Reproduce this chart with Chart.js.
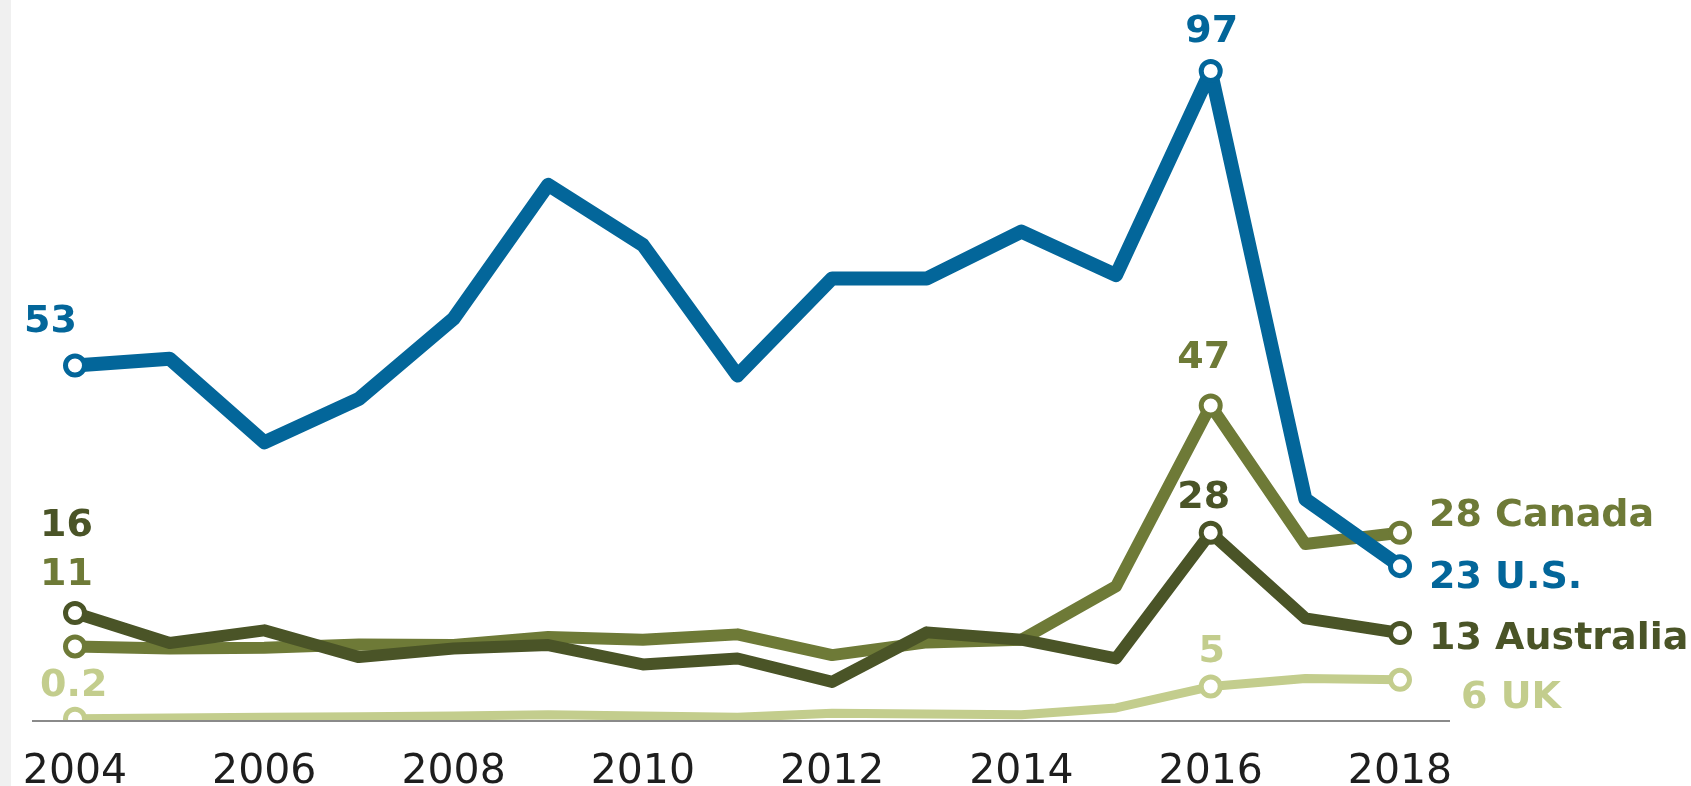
<!DOCTYPE html>
<html>
<head>
<meta charset="utf-8">
<script src="https://cdn.jsdelivr.net/npm/chart.js@4.4.1/dist/chart.umd.min.js"></script>
<style>
  html, body { margin: 0; padding: 0; }
  body {
    width: 1691px;
    height: 786px;
    overflow: hidden;
    background: linear-gradient(to right, #f0f0f0 11px, #ffffff 11px);
  }
  #chartBox { position: relative; width: 1691px; height: 786px; }
</style>
</head>
<body>
<div id="chartBox"><canvas id="myChart"></canvas></div>
<script>
// data
const years = ["2004", "2005", "2006", "2007", "2008", "2009", "2010", "2011",
  "2012", "2013", "2014", "2015", "2016", "2017", "2018"];
const tickLabels = ["2004", "2006", "2008", "2010", "2012", "2014", "2016", "2018"];

const usValues = [53, 54, 41.5, 48, 60, 80, 71, 51.5, 66, 66, 73, 66.5, 97, 33, 23];
const australiaValues = [16, 11.5, 13.4, 9.4, 10.7, 11.2, 8.3, 9.2, 5.7, 13.1, 12, 9.2, 28, 15.2, 13];
const canadaValues = [11, 10.7, 10.8, 11.3, 11.2, 12.4, 12, 12.8, 9.7, 11.6, 12, 20, 47, 26.3, 28];
const ukValues = [0.2, 0.3, 0.4, 0.5, 0.6, 0.8, 0.6, 0.4, 1.0, 0.9, 0.8, 1.8, 5, 6.2, 6];

const seriesNames = ["U.S.", "Australia", "Canada", "UK"];
const markedYears = ["2004", "2016", "2018"];

const colors = {
  "U.S.": "#03669a",
  "Australia": "#4a5427",
  "Canada": "#6e7a37",
  "UK": "#c3cd8d"
};

// where each label sits relative to its point (pixels)
const labelLayout = {
  "U.S.": [
    { year: "2004", dx: -51, dy: -43, align: "left" },
    { year: "2016", dx: 1, dy: -39, align: "center" },
    { year: "2018", dx: 29, dy: 12, align: "left", name: true }
  ],
  "Australia": [
    { year: "2004", dx: -35, dy: -87, align: "left" },
    { year: "2016", dx: -7, dy: -35, align: "center" },
    { year: "2018", dx: 29, dy: 6, align: "left", name: true }
  ],
  "Canada": [
    { year: "2004", dx: -35, dy: -71, align: "left" },
    { year: "2016", dx: -7, dy: -47, align: "center" },
    { year: "2018", dx: 29, dy: -17, align: "left", name: true }
  ],
  "UK": [
    { year: "2004", dx: -35, dy: -33, align: "left" },
    { year: "2016", dx: 1, dy: -34, align: "center" },
    { year: "2018", dx: 61, dy: 18, align: "left", name: true }
  ]
};

function fmt(v) {
  return v < 1 ? v.toFixed(1) : String(Math.round(v));
}

const seriesValues = [usValues, australiaValues, canadaValues, ukValues];
const lineWidths = { "U.S.": 14, "Australia": 12, "Canada": 12, "UK": 9 };

const datasets = seriesNames.map((name, i) => ({
  label: name,
  data: seriesValues[i],
  borderColor: colors[name],
  borderWidth: lineWidths[name],
  borderJoinStyle: "round",
  borderCapStyle: "round",
  fill: false,
  tension: 0,
  pointRadius: (c) => markedYears.includes(years[c.dataIndex]) ? 9.5 : 0,
  pointHoverRadius: 0,
  pointBorderWidth: 5,
  pointBorderColor: colors[name],
  pointBackgroundColor: "#ffffff"
}));

const baseLine = {
  id: "baseLine",
  beforeDatasetsDraw(chart) {
    const c = chart.ctx;
    const xs = chart.scales.x;
    const y = chart.scales.y.getPixelForValue(0) + 1;
    c.save();
    c.strokeStyle = "#8a8a8a";
    c.lineWidth = 2;
    c.beginPath();
    c.moveTo(xs.left - 43, y);
    c.lineTo(xs.right + 50, y);
    c.stroke();
    c.restore();
  }
};

const pointLabels = {
  id: "pointLabels",
  afterDatasetsDraw(chart) {
    const c = chart.ctx;
    c.save();
    c.font = "bold 38px 'DejaVu Sans'";
    c.textBaseline = "middle";
    chart.data.datasets.forEach((ds, di) => {
      const meta = chart.getDatasetMeta(di);
      labelLayout[ds.label].forEach((spot) => {
        const idx = years.indexOf(spot.year);
        const pt = meta.data[idx];
        let text = fmt(ds.data[idx]);
        if (spot.name) text += " " + ds.label;
        c.fillStyle = ds.borderColor;
        c.textAlign = spot.align;
        c.fillText(text, pt.x + spot.dx, pt.y + spot.dy);
      });
    });
    c.restore();
  }
};

const ctx = document.getElementById("myChart").getContext("2d");
new Chart(ctx, {
  type: "line",
  data: { labels: years, datasets },
  options: {
    responsive: true,
    maintainAspectRatio: false,
    animation: false,
    layout: { padding: { left: 75, right: 291, top: 51, bottom: 0 } },
    scales: {
      x: {
        offset: false,
        grid: { display: false, drawTicks: false },
        border: { display: false },
        afterFit: (scale) => {
          scale.height = 66;
          scale.paddingLeft = 0;
          scale.paddingRight = 0;
        },
        ticks: {
          autoSkip: false,
          maxRotation: 0,
          padding: 32,
          color: "#1e1e1e",
          font: { family: "'DejaVu Sans'", size: 41, lineHeight: 1 },
          callback: (v, i) => tickLabels.includes(years[i]) ? years[i] : ""
        }
      },
      y: {
        display: false,
        min: 0,
        max: 100
      }
    },
    plugins: {
      legend: { display: false },
      tooltip: { enabled: false }
    }
  },
  plugins: [baseLine, pointLabels]
});
</script>
</body>
</html>
